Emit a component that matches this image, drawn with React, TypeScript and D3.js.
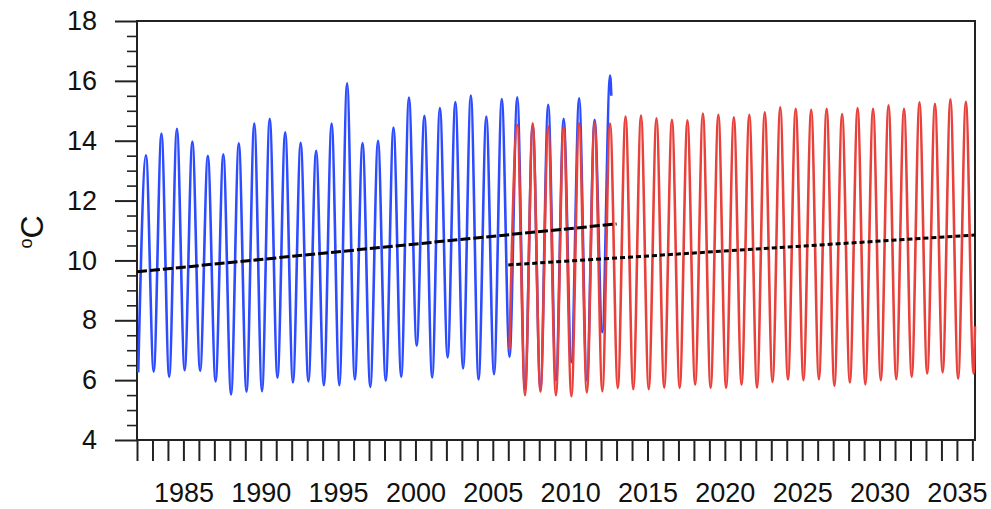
import { useEffect, useRef } from "react";
import * as d3 from "d3";

// observed series (blue), one trough + one peak per year
const obsStart = 1982;
const obsTroughs = [
  6.26, 6.28, 6.11, 6.33, 6.31, 5.96, 5.52, 5.61, 5.63, 6.08, 5.92, 5.96, 5.83, 5.83, 6.02, 5.77,
  5.98, 6.11, 7.15, 6.09, 6.76, 6.39, 6.02, 6.2, 6.78, 5.7, 5.7, 6.0, 6.6, 6.0, 7.6,
];
const obsPeaks = [
  13.51, 14.24, 14.4, 13.97, 13.5, 13.55, 13.91, 14.57, 14.73, 14.28, 13.93, 13.66, 14.57, 15.92,
  13.92, 14.0, 14.44, 15.44, 14.83, 15.09, 15.29, 15.51, 14.81, 15.39, 15.45, 14.5, 15.2, 14.73,
  15.42, 14.7, 16.18,
];
const obsLast: [number, number] = [2012.66, 15.5];

// projected series (red)
const projStart = 2006;
const projTroughs = [
  7.05, 5.5, 5.61, 5.5, 5.46, 5.59, 5.63, 5.74, 5.7, 5.7, 5.75, 5.74, 5.85, 5.74, 5.74, 5.85, 5.75,
  5.94, 6.02, 6.0, 6.03, 5.81, 5.92, 5.86, 6.0, 6.03, 6.11, 6.22, 6.26, 6.05, 6.22,
];
const projPeaks = [
  14.53, 14.58, 14.47, 14.46, 14.58, 14.62, 14.57, 14.81, 14.84, 14.75, 14.7, 14.68, 14.91, 14.87,
  14.78, 14.87, 14.95, 15.12, 15.07, 15.03, 15.07, 14.89, 15.09, 15.07, 15.18, 15.07, 15.28, 15.23,
  15.38, 15.3,
];
const projLast: [number, number] = [2036.17, 7.8];

// linear trends
const obsTrend: [number, number][] = [
  [1982, 9.62],
  [2013.0, 11.22],
];
const projTrend: [number, number][] = [
  [2006.0, 9.85],
  [2036.17, 10.85],
];

const yMajor = [4, 6, 8, 10, 12, 14, 16, 18];
const xLabelYears = [1985, 1990, 1995, 2000, 2005, 2010, 2015, 2020, 2025, 2030, 2035];

// time within the year of the winter low / summer high
const TROUGH_PHASE = 0.08;
const PEAK_PHASE = 0.58;

function buildSeries(start: number, troughs: number[], peaks: number[], last: [number, number]) {
  const pts: [number, number][] = [];
  troughs.forEach((t, i) => {
    pts.push([start + i + TROUGH_PHASE, t]);
    if (i < peaks.length) pts.push([start + i + PEAK_PHASE, peaks[i]]);
  });
  pts.push(last);
  return pts;
}

const W = 991;
const H = 509;
const FONT = "'Liberation Sans', Arial, Helvetica, sans-serif";

export default function App() {
  const ref = useRef<SVGSVGElement>(null);

  useEffect(() => {
    const svg = d3.select(ref.current);
    svg.selectAll("*").remove();

    const x = d3.scaleLinear().domain([1982, 2036.17]).range([137, 975]);
    const y = d3.scaleLinear().domain([4, 18]).range([440, 21]);

    const line = d3
      .line<[number, number]>()
      .x((d) => x(d[0]))
      .y((d) => y(d[1]))
      .curve(d3.curveMonotoneX);

    const straight = d3
      .line<[number, number]>()
      .x((d) => x(d[0]))
      .y((d) => y(d[1]));

    // frame (drawn first, the curves sit on top of it)
    svg
      .append("rect")
      .attr("x", x.range()[0])
      .attr("y", y.range()[1])
      .attr("width", x.range()[1] - x.range()[0])
      .attr("height", y.range()[0] - y.range()[1])
      .attr("fill", "none")
      .attr("stroke", "#222")
      .attr("stroke-width", 2);

    // series
    svg
      .append("path")
      .attr("d", line(buildSeries(obsStart, obsTroughs, obsPeaks, obsLast)))
      .attr("fill", "none")
      .attr("stroke", "#2d4bff")
      .attr("stroke-width", 2.6)
      .attr("stroke-linejoin", "round");

    svg
      .append("path")
      .attr("d", line(buildSeries(projStart, projTroughs, projPeaks, projLast)))
      .attr("fill", "none")
      .attr("stroke", "#e8403a")
      .attr("stroke-width", 2.6)
      .attr("stroke-linejoin", "round");

    // trends
    svg
      .append("path")
      .attr("d", straight(obsTrend))
      .attr("fill", "none")
      .attr("stroke", "#000")
      .attr("stroke-width", 3)
      .attr("stroke-dasharray", "10,3");

    svg
      .append("path")
      .attr("d", straight(projTrend))
      .attr("fill", "none")
      .attr("stroke", "#000")
      .attr("stroke-width", 3)
      .attr("stroke-dasharray", "5,3");

    // y axis: minor ticks then major ticks
    const yMinor = d3.range(4, 18.01, 0.5).filter((v) => !yMajor.includes(v));
    svg
      .append("g")
      .attr("transform", `translate(${x.range()[0]},0)`)
      .call(d3.axisLeft(y).tickValues(yMinor).tickSize(10).tickSizeOuter(0).tickFormat(() => ""))
      .call((g) => g.select(".domain").remove())
      .call((g) => g.selectAll("line").attr("stroke", "#222").attr("stroke-width", 1.6));

    svg
      .append("g")
      .attr("transform", `translate(${x.range()[0]},0)`)
      .call(d3.axisLeft(y).tickValues(yMajor).tickSize(22).tickSizeOuter(0).tickPadding(18))
      .call((g) => g.select(".domain").remove())
      .call((g) => g.selectAll("line").attr("stroke", "#222").attr("stroke-width", 2))
      .call((g) =>
        g.selectAll("text").attr("font-family", FONT).attr("font-size", 27).attr("fill", "#111")
      );

    // x axis: a tick every year, labels every 5
    svg
      .append("g")
      .attr("transform", `translate(0,${y.range()[0]})`)
      .call(
        d3
          .axisBottom(x)
          .tickValues(d3.range(1982, 2037))
          .tickSize(21)
          .tickSizeOuter(0)
          .tickPadding(22)
          .tickFormat((d) => (xLabelYears.includes(+d) ? String(d) : ""))
      )
      .call((g) => g.select(".domain").remove())
      .call((g) => g.selectAll("line").attr("stroke", "#222").attr("stroke-width", 2))
      .call((g) =>
        g.selectAll("text").attr("font-family", FONT).attr("font-size", 27).attr("fill", "#111")
      );

    // y label
    const lab = svg
      .append("text")
      .attr("transform", "translate(43,232) rotate(-90)")
      .attr("text-anchor", "middle")
      .attr("font-family", FONT)
      .attr("fill", "#111");
    lab.append("tspan").attr("font-size", 18).attr("dy", -11).text("o");
    lab.append("tspan").attr("font-size", 32).attr("dy", 11).text("C");
  }, []);

  return (
    <svg
      ref={ref}
      width={W}
      height={H}
      style={{ position: "absolute", left: 0, top: 0, background: "#fff" }}
    />
  );
}
